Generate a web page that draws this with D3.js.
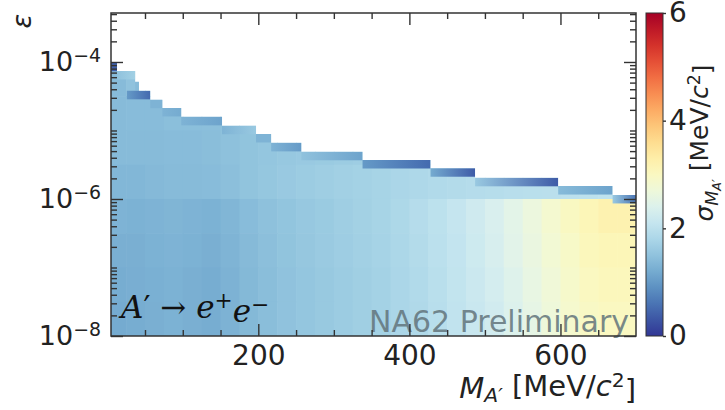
<!DOCTYPE html>
<html>
<head>
<meta charset="utf-8">
<script src="https://cdn.jsdelivr.net/npm/d3@7"></script>
<style>
  body { margin: 0; background: #fff; }
  text { font-family: "DejaVu Sans", sans-serif; }
</style>
</head>
<body>
<svg id="chart" width="725" height="410"></svg>
<script>
// mass bins (MeV/c^2) of the sigma field
const massEdges = [5, 25, 50, 75, 100, 125, 150, 175, 200, 225, 250, 275, 300, 325, 350,
    375, 400, 425, 450, 475, 500, 525, 550, 575, 600, 625, 650, 675, 700];
// log10(eps) bin edges, top to bottom
const logEpsEdges = [-4, -4.5, -5, -5.5, -6, -6.5, -7, -7.5, -8];
// sigma_M (MeV/c^2), one row per eps band, null = no data
const N = null;
const sigmaRows = [
    [1.40, 1.50, 1.45, N, N, N, N, N, N, N, N, N, N, N, N, N, N, N, N, N, N, N, N, N, N, N, N, N],
    [1.40, 1.42, 1.42, 1.45, 1.45, 1.46, 1.48, 1.50, N, N, N, N, N, N, N, N, N, N, N, N, N, N, N, N, N, N, N, N],
    [1.40, 1.40, 1.40, 1.42, 1.42, 1.44, 1.48, 1.52, 1.55, 1.58, 1.60, 1.62, 1.64, 1.66, 1.68, 1.70, 1.72, 1.74, N, N, N, N, N, N, N, N, N, N],
    [1.35, 1.35, 1.38, 1.40, 1.40, 1.42, 1.46, 1.52, 1.56, 1.60, 1.64, 1.67, 1.70, 1.73, 1.76, 1.80, 1.84, 1.87, 1.89, 1.91, 1.93, 1.95, 1.96, 1.97, 1.99, 2.01, 2.03, 2.05],
    [1.30, 1.28, 1.30, 1.32, 1.30, 1.28, 1.34, 1.42, 1.48, 1.53, 1.58, 1.62, 1.67, 1.71, 1.76, 1.83, 1.91, 2.00, 2.10, 2.22, 2.35, 2.50, 2.65, 2.82, 2.98, 3.10, 3.20, 3.20],
    [1.25, 1.25, 1.28, 1.30, 1.28, 1.25, 1.31, 1.39, 1.46, 1.52, 1.57, 1.61, 1.66, 1.70, 1.75, 1.82, 1.89, 1.98, 2.08, 2.20, 2.32, 2.48, 2.62, 2.78, 2.92, 3.05, 3.10, 3.10],
    [1.22, 1.24, 1.26, 1.28, 1.25, 1.22, 1.29, 1.37, 1.44, 1.50, 1.55, 1.59, 1.64, 1.68, 1.73, 1.80, 1.87, 1.96, 2.06, 2.17, 2.28, 2.43, 2.58, 2.73, 2.88, 3.00, 3.05, 3.05],
    [1.20, 1.22, 1.25, 1.28, 1.25, 1.22, 1.29, 1.37, 1.44, 1.50, 1.55, 1.59, 1.64, 1.68, 1.73, 1.80, 1.86, 1.95, 2.05, 2.15, 2.25, 2.40, 2.55, 2.70, 2.85, 2.95, 3.00, 3.00]
];

// upper edge of the sensitive region (staircase)
const stairMass = [5, 13, 37, 42, 57, 73, 98, 152, 197, 217, 257, 338, 428, 487, 597, 669, 700];
const stairTop = [-4.01, -4.13, -4.29, -4.42, -4.55, -4.67, -4.80, -4.93, -5.05, -5.18, -5.31,
    -5.43, -5.55, -5.69, -5.81, -5.94];

// top strips along the edge, sigma at left / right end
const stripM0 = [5, 13, 37, 26, 57, 73, 98, 152, 197, 217, 257, 338, 428, 487, 597, 669];
const stripM1 = [13, 37, 42, 57, 73, 98, 152, 197, 217, 257, 338, 428, 487, 597, 669, 700];
const stripTop = [-4.01, -4.13, -4.29, -4.42, -4.55, -4.67, -4.80, -4.93, -5.05, -5.18, -5.31,
    -5.43, -5.55, -5.69, -5.81, -5.94];
const stripS0 = [0.4, 1.5, 1.4, 1.0, 1.3, 1.3, 1.3, 1.3, 1.3, 1.3, 1.5, 1.0, 1.2, 1.6, 1.4, 1.6];
const stripS1 = [0.4, 1.7, 1.4, 0.5, 1.3, 1.2, 1.1, 1.6, 1.3, 1.0, 1.1, 0.5, 0.35, 0.35, 1.1, 0.6];
const stripH = 0.125;

const xTicks = [200, 400, 600];
const xMinor = [50, 100, 150, 250, 300, 350, 450, 500, 550, 650];
const yTicks = [1e-8, 1e-6, 1e-4];
const cTicks = [0, 2, 4, 6];

const svg = d3.select("#chart");
const plotL = 111, plotR = 636, plotT = 13, plotB = 336;
const axisColor = "#333";

const x = d3.scaleLinear().domain([5, 700]).range([plotL, plotR]);
const y = d3.scaleLog().domain([1e-8, Math.pow(10, -3.285)]).range([plotB, plotT]);
const color = d3.scaleSequential(d3.interpolateRdYlBu).domain([6, 0]);

const defs = svg.append("defs");

// clip to the staircase
let stairPts = [[x(stairMass[0]), y(1e-8)]];
stairTop.forEach((t, i) => {
    stairPts.push([x(stairMass[i]), y(Math.pow(10, t))]);
    stairPts.push([x(stairMass[i + 1]), y(Math.pow(10, t))]);
});
stairPts.push([x(700), y(1e-8)]);
defs.append("clipPath").attr("id", "stair")
    .append("path")
    .attr("d", d3.line()(stairPts) + "Z");

const field = svg.append("g").attr("clip-path", "url(#stair)");

sigmaRows.forEach((row, r) => {
    const yTop = y(Math.pow(10, logEpsEdges[r]));
    const yBot = y(Math.pow(10, logEpsEdges[r + 1]));
    row.forEach((v, c) => {
        if (v === null) return;
        field.append("rect")
            .attr("x", x(massEdges[c]))
            .attr("y", yTop)
            .attr("width", x(massEdges[c + 1]) - x(massEdges[c]) + 0.6)
            .attr("height", yBot - yTop + 0.6)
            .attr("fill", color(v));
    });
});

// edge strips with a left-to-right gradient
stripTop.forEach((t, i) => {
    const g = defs.append("linearGradient").attr("id", "strip" + i)
        .attr("x1", 0).attr("x2", 1).attr("y1", 0).attr("y2", 0);
    g.append("stop").attr("offset", 0).attr("stop-color", color(stripS0[i]));
    g.append("stop").attr("offset", 1).attr("stop-color", color(stripS1[i]));
    const y0 = y(Math.pow(10, t));
    const y1 = y(Math.pow(10, t - stripH));
    field.append("rect")
        .attr("x", x(stripM0[i]))
        .attr("y", y0)
        .attr("width", x(stripM1[i]) - x(stripM0[i]))
        .attr("height", y1 - y0)
        .attr("fill", `url(#strip${i})`);
});

// labels inside the plot
const proc = svg.append("text")
    .attr("x", 121).attr("y", 318)
    .style("font-family", "'DejaVu Serif', serif")
    .attr("font-size", 31)
    .attr("fill", "#111");
proc.append("tspan").attr("font-style", "italic").text("A");
proc.append("tspan").text("′ → ");
proc.append("tspan").attr("font-style", "italic").text("e");
proc.append("tspan").attr("dy", "-0.45em").attr("font-size", "0.7em").text("+");
proc.append("tspan").attr("dy", "0.45em").attr("font-style", "italic").text("e");
proc.append("tspan").attr("dy", "-0.45em").attr("font-size", "0.7em").text("−");

svg.append("text")
    .attr("x", 369).attr("y", 332)
    .attr("font-size", 30)
    .attr("fill", "#62747b")
    .attr("fill-opacity", 0.85)
    .text("NA62 Preliminary");

// axes, ticks pointing inwards
const styleAxis = g => {
    g.select(".domain").remove();
    g.selectAll(".tick line").attr("stroke", axisColor).attr("stroke-width", 1.4);
    g.selectAll(".tick text").attr("fill", "#222").attr("font-size", 28)
        .style("font-family", "'DejaVu Sans', sans-serif");
};

svg.append("g").attr("transform", `translate(0,${plotB})`)
    .call(d3.axisBottom(x).tickValues(xTicks).tickSize(-12).tickPadding(9))
    .call(styleAxis);
svg.append("g").attr("transform", `translate(0,${plotB})`)
    .call(d3.axisBottom(x).tickValues(xMinor).tickSize(-6).tickFormat(""))
    .call(styleAxis);
svg.append("g").attr("transform", `translate(0,${plotT})`)
    .call(d3.axisTop(x).tickValues(xTicks).tickSize(-12).tickFormat(""))
    .call(styleAxis);
svg.append("g").attr("transform", `translate(0,${plotT})`)
    .call(d3.axisTop(x).tickValues(xMinor).tickSize(-6).tickFormat(""))
    .call(styleAxis);

const yMinor = y.ticks().filter(v => !yTicks.some(t => Math.abs(t - v) / t < 1e-6));
const yLeft = svg.append("g").attr("transform", `translate(${plotL},0)`)
    .call(d3.axisLeft(y).tickValues(yTicks).tickSize(-12).tickPadding(10).tickFormat(() => ""))
    .call(styleAxis);
yLeft.selectAll(".tick text").attr("font-size", 27).each(function (d) {
    const t = d3.select(this);
    const e = Math.round(Math.log10(d));
    t.append("tspan").text("10");
    t.append("tspan").attr("dy", "-0.5em").attr("font-size", "0.7em").text("−" + Math.abs(e));
});
svg.append("g").attr("transform", `translate(${plotL},0)`)
    .call(d3.axisLeft(y).tickValues(yMinor).tickSize(-6).tickFormat(""))
    .call(styleAxis);
svg.append("g").attr("transform", `translate(${plotR},0)`)
    .call(d3.axisRight(y).tickValues(yTicks).tickSize(-12).tickFormat(""))
    .call(styleAxis);
svg.append("g").attr("transform", `translate(${plotR},0)`)
    .call(d3.axisRight(y).tickValues(yMinor).tickSize(-6).tickFormat(""))
    .call(styleAxis);

svg.append("rect")
    .attr("x", plotL).attr("y", plotT)
    .attr("width", plotR - plotL).attr("height", plotB - plotT)
    .attr("fill", "none").attr("stroke", axisColor).attr("stroke-width", 1.5);

// axis titles
const xl = svg.append("text")
    .attr("x", plotR).attr("y", 398)
    .attr("text-anchor", "end")
    .attr("font-size", 29).attr("fill", "#222");
xl.append("tspan").attr("font-style", "italic").text("M");
xl.append("tspan").attr("dy", "0.2em").attr("font-size", "0.7em").attr("font-style", "italic").text("A′");
xl.append("tspan").attr("dy", "-0.2em").text(" [MeV/");
xl.append("tspan").attr("font-style", "italic").text("c");
xl.append("tspan").attr("dy", "-0.45em").attr("font-size", "0.7em").text("2");
xl.append("tspan").attr("dy", "0.45em").text("]");

svg.append("text")
    .attr("transform", `translate(31,${plotT + 1}) rotate(-90)`)
    .attr("text-anchor", "end")
    .attr("font-size", 27).attr("font-style", "italic").attr("fill", "#222")
    .text("ε");

// colour bar
const cb = { x: 646, w: 17 };
const cScale = d3.scaleLinear().domain([0, 6]).range([plotB, plotT]);
const grad = defs.append("linearGradient").attr("id", "cbar")
    .attr("x1", 0).attr("x2", 0).attr("y1", 1).attr("y2", 0);
d3.range(0, 1.0001, 0.05).forEach(o => {
    grad.append("stop").attr("offset", o).attr("stop-color", color(6 * o));
});
svg.append("rect")
    .attr("x", cb.x).attr("y", plotT)
    .attr("width", cb.w).attr("height", plotB - plotT)
    .attr("fill", "url(#cbar)")
    .attr("stroke", axisColor).attr("stroke-width", 1);
svg.append("g").attr("transform", `translate(${cb.x + cb.w},0)`)
    .call(d3.axisRight(cScale).tickValues(cTicks).tickSize(3).tickPadding(3).tickFormat(d3.format("d")))
    .call(styleAxis);

const cl = svg.append("text")
    .attr("transform", `translate(713,143) rotate(-90)`)
    .attr("text-anchor", "middle")
    .attr("font-size", 25).attr("fill", "#222");
cl.append("tspan").attr("font-style", "italic").text("σ");
cl.append("tspan").attr("dy", "0.3em").attr("font-size", "0.7em").attr("font-style", "italic").text("M");
cl.append("tspan").attr("dy", "0.25em").attr("font-size", "0.5em").attr("font-style", "italic").text("A′");
cl.append("tspan").attr("dy", "-0.55em").text(" [MeV/");
cl.append("tspan").attr("font-style", "italic").text("c");
cl.append("tspan").attr("dy", "-0.45em").attr("font-size", "0.7em").text("2");
cl.append("tspan").attr("dy", "0.45em").text("]");
</script>
</body>
</html>
